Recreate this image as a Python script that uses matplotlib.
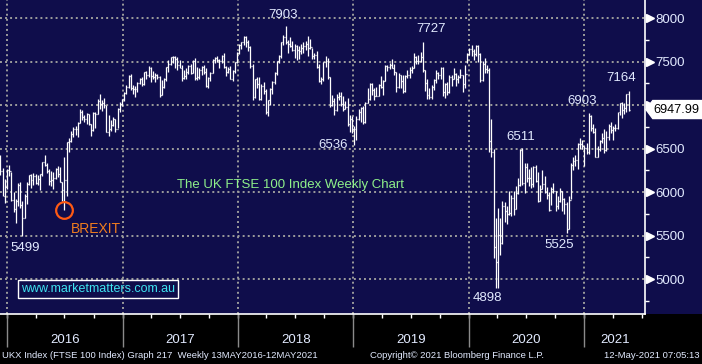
import numpy as np
import pandas as pd
import matplotlib
matplotlib.use('Agg')
import matplotlib.pyplot as plt
import matplotlib.dates as mdates
import matplotlib.transforms as mtransforms
from matplotlib.patches import Polygon
from matplotlib.ticker import MultipleLocator

plt.rcParams['font.family'] = ['Liberation Sans', 'DejaVu Sans']

# weekly FTSE 100 bars (high / low / close)
highs = [
    # Dec 2015
    6420, 6280, 6150, 6270, 6315,
    # 2016
    6230, 6000, 5920, 6100, 6120, 5900, 5980, 6120, 6200, 6210, 6220, 6210, 6200,
    6210, 6350, 6420, 6330, 6260, 6240, 6230, 6280, 6300, 6290, 6120, 6400, 6580,
    6620, 6700, 6750, 6760, 6800, 6950, 6940, 6890, 6910, 6900, 6780, 6920, 6920,
    7070, 7130, 7060, 7080, 7000, 6880, 6830, 6860, 6840, 6960, 7030, 7070, 7145,
    # 2017
    7230, 7340, 7360, 7230, 7220, 7270, 7310, 7320, 7385, 7390, 7450, 7440, 7390,
    7370, 7360, 7330, 7290, 7310, 7440, 7520, 7550, 7560, 7560, 7550, 7520, 7460,
    7400, 7420, 7460, 7470, 7520, 7540, 7440, 7420, 7450, 7460, 7420, 7320, 7380,
    7530, 7550, 7560, 7530, 7580, 7600, 7450, 7440, 7450, 7400, 7500, 7610, 7700,
    # 2018
    7730, 7790, 7790, 7750, 7680, 7470, 7300, 7320, 7320, 7240, 7260, 7180, 7060,
    7200, 7280, 7380, 7510, 7570, 7730, 7800, 7903, 7750, 7780, 7740, 7700, 7690,
    7680, 7700, 7720, 7740, 7790, 7760, 7660, 7600, 7620, 7470, 7320, 7500, 7560,
    7540, 7320, 7110, 7080, 7130, 7150, 7150, 7100, 7050, 7080, 6890, 6870, 6760,
    # 2019
    6870, 6950, 6980, 6990, 7040, 7200, 7250, 7250, 7200, 7210, 7240, 7330, 7290,
    7460, 7460, 7480, 7530, 7470, 7380, 7370, 7350, 7340, 7350, 7400, 7440, 7450,
    7600, 7560, 7580, 7610, 7727, 7400, 7300, 7200, 7230, 7300, 7400, 7380, 7440,
    7440, 7250, 7270, 7350, 7350, 7420, 7370, 7350, 7410, 7350, 7460, 7600, 7650,
    # 2020
    7690, 7640, 7690, 7690, 7600, 7510, 7540, 7460, 7420, 6840, 6490, 5700, 5820,
    5700, 5900, 5890, 5840, 6010, 5960, 6010, 6070, 6160, 6490, 6511, 6330, 6330,
    6260, 6290, 6300, 6310, 6230, 6080, 6250, 6180, 6060, 6000, 6060, 6100, 6010,
    5950, 6050, 6010, 5930, 5880, 5950, 6330, 6400, 6430, 6560, 6620, 6600, 6530,
    6560,
    # 2021
    6903, 6880, 6780, 6740, 6530, 6600, 6680, 6720, 6700, 6780, 6800, 6760, 6780,
    6920, 7020, 7040, 7020, 7130, 7164,
]

lows = [
    # Dec 2015
    6200, 5950, 5870, 6040, 6180,
    # 2016
    5900, 5770, 5640, 5840, 5820, 5499, 5700, 5860, 6080, 6050, 6080, 6090, 6080,
    6020, 6180, 6300, 6220, 6080, 6070, 6040, 6150, 6170, 6110, 5900, 5788, 5950,
    6460, 6570, 6630, 6650, 6630, 6790, 6830, 6800, 6780, 6770, 6640, 6700, 6740,
    6900, 6950, 6930, 6960, 6690, 6640, 6700, 6760, 6690, 6740, 6920, 6990, 7050,
    # 2017
    7130, 7200, 7170, 7130, 7090, 7150, 7240, 7220, 7230, 7300, 7320, 7260, 7300,
    7270, 7300, 7090, 7110, 7190, 7280, 7380, 7460, 7480, 7430, 7400, 7420, 7280,
    7300, 7300, 7360, 7360, 7370, 7290, 7290, 7300, 7350, 7360, 7210, 7200, 7280,
    7370, 7480, 7490, 7430, 7480, 7420, 7330, 7370, 7300, 7280, 7370, 7480, 7590,
    # 2018
    7640, 7690, 7670, 7620, 7430, 7060, 7080, 7190, 7060, 7060, 7130, 6900, 6870,
    7000, 7130, 7240, 7340, 7480, 7540, 7690, 7700, 7600, 7670, 7620, 7540, 7520,
    7530, 7590, 7600, 7630, 7560, 7640, 7530, 7530, 7420, 7260, 7240, 7280, 7440,
    7300, 6980, 6990, 6880, 6930, 7060, 6990, 6930, 6950, 6760, 6690, 6680, 6536,
    # 2019
    6600, 6830, 6810, 6780, 6790, 7020, 7060, 7120, 7060, 7100, 7100, 7200, 7110,
    7280, 7390, 7410, 7420, 7340, 7150, 7200, 7200, 7140, 7150, 7310, 7310, 7370,
    7420, 7470, 7470, 7500, 7380, 7160, 7070, 7070, 7070, 7170, 7250, 7300, 7300,
    7100, 7080, 7120, 7140, 7220, 7300, 7220, 7250, 7310, 7150, 7200, 7480, 7570,
    # 2020
    7560, 7520, 7560, 7500, 7270, 7280, 7370, 7370, 6460, 6400, 5240, 4898, 4900,
    5280, 5400, 5660, 5630, 5740, 5730, 5740, 5800, 5980, 6070, 6080, 5990, 6110,
    6070, 6050, 6060, 6110, 5880, 5900, 6030, 5990, 5920, 5780, 5850, 5990, 5780,
    5800, 5880, 5780, 5750, 5525, 5570, 5920, 6250, 6300, 6260, 6490, 6490, 6300,
    6440,
    # 2021
    6440, 6700, 6680, 6400, 6400, 6470, 6560, 6450, 6470, 6600, 6680, 6600, 6700,
    6720, 6880, 6850, 6900, 6920, 6930,
]

closes = [
    # Dec 2015
    6238, 5952, 6052, 6254, 6242,
    # 2016
    5912, 5804, 5900, 6083, 5848, 5707, 5950, 6096, 6199, 6139, 6189, 6106, 6146,
    6204, 6343, 6310, 6241, 6125, 6138, 6156, 6270, 6209, 6116, 6021, 6138, 6577,
    6590, 6669, 6730, 6724, 6793, 6916, 6859, 6838, 6895, 6777, 6710, 6909, 6899,
    7044, 7013, 7020, 6996, 6693, 6730, 6775, 6840, 6730, 6954, 7011, 7068, 7143,
    # 2017
    7210, 7338, 7198, 7184, 7188, 7258, 7300, 7244, 7374, 7343, 7425, 7336, 7323,
    7349, 7327, 7114, 7204, 7297, 7435, 7470, 7548, 7548, 7527, 7464, 7424, 7313,
    7337, 7378, 7453, 7368, 7511, 7310, 7324, 7401, 7438, 7377, 7215, 7310, 7373,
    7523, 7535, 7523, 7505, 7560, 7433, 7380, 7409, 7300, 7394, 7490, 7603, 7688,
    # 2018
    7724, 7778, 7730, 7666, 7443, 7092, 7294, 7244, 7070, 7224, 7164, 6922, 7057,
    7184, 7265, 7368, 7502, 7567, 7725, 7779, 7730, 7701, 7681, 7634, 7683, 7637,
    7618, 7661, 7679, 7701, 7659, 7667, 7558, 7577, 7432, 7277, 7304, 7490, 7510,
    7318, 6996, 7049, 6940, 7094, 7105, 7014, 6953, 6980, 6778, 6845, 6721, 6728,
    # 2019
    6837, 6918, 6968, 6809, 7020, 7071, 7237, 7178, 7107, 7104, 7228, 7208, 7279,
    7447, 7437, 7459, 7428, 7380, 7203, 7348, 7277, 7162, 7331, 7346, 7407, 7426,
    7553, 7506, 7508, 7549, 7407, 7254, 7117, 7095, 7207, 7282, 7367, 7345, 7426,
    7155, 7247, 7150, 7324, 7302, 7359, 7303, 7327, 7347, 7240, 7353, 7582, 7645,
    # 2020
    7623, 7588, 7675, 7586, 7286, 7467, 7409, 7404, 6581, 6463, 5366, 5191, 5510,
    5416, 5843, 5787, 5752, 5763, 5936, 5800, 5993, 6077, 6484, 6105, 6292, 6159,
    6157, 6095, 6290, 6124, 5898, 6032, 6090, 6001, 5964, 5799, 6032, 6007, 5842,
    5902, 6017, 5920, 5860, 5577, 5910, 6316, 6351, 6367, 6550, 6547, 6529, 6502,
    6461,
    # 2021
    6873, 6736, 6695, 6407, 6489, 6589, 6624, 6483, 6631, 6761, 6709, 6741, 6737,
    6916, 7020, 6938, 6970, 7130, 6947.99,
]

weeks = pd.date_range('2015-12-11', periods=len(closes), freq='7D')
years = [2016, 2017, 2018, 2019, 2020, 2021]
price_ticks = [5000, 5500, 6000, 6500, 7000, 7500, 8000]
# 7000 sits under the last-price flag, so its label is not shown
price_labels = ['5000', '5500', '6000', '6500', '', '7500', '8000']

# turning points that carry a value label: (week, 'high'/'low')
turns = [
    ('2016-02-19', 'low'), ('2018-06-01', 'high'), ('2019-01-04', 'low'),
    ('2019-08-09', 'high'), ('2020-03-27', 'low'), ('2020-06-19', 'high'),
    ('2020-11-06', 'low'), ('2021-01-15', 'high'), ('2021-05-21', 'high'),
]

NAVY = '#0f0d4b'
TXT = '#e2eaff'
GRID = '#9c9c9c'

fig = plt.figure(figsize=(7.02, 3.64), dpi=100, facecolor='black')
W, H = 702, 364
ax = fig.add_axes([0, 1 - 314 / H, 645 / W, 314 / H])
ax.set_facecolor(NAVY)
# navy strip behind right-hand price scale
fig.patches.append(plt.Rectangle((645 / W, 1 - 314 / H), 57 / W, 314 / H,
                                 transform=fig.transFigure, facecolor=NAVY,
                                 edgecolor='none', zorder=-5))

x = mdates.date2num(weeks)
h = np.array(highs)
l = np.array(lows)
c = np.array(closes)
half = 3.0

ax.vlines(x, l, h, color='white', lw=0.9, zorder=3)
ax.hlines(c, x, x + half, color='white', lw=0.9, zorder=3)
ax.hlines(c[:-1], x[1:] - half, x[1:], color='white', lw=0.9, zorder=3)

jan1 = mdates.date2num(pd.Timestamp('2016-01-01'))
ax.set_xlim(jan1 - 22, jan1 + 2019)
ax.set_ylim(4598, 8207)

# dotted grid
for v in price_ticks:
    ax.axhline(v, color=GRID, lw=1.4, ls=(0, (1, 1.6)), zorder=1)
year_x = [mdates.date2num(pd.Timestamp(f'{y}-01-01')) for y in years]
for yx in year_x:
    ax.axvline(yx, color=GRID, lw=1.4, ls=(0, (1, 1.6)), zorder=1)

for s in ['top', 'left']:
    ax.spines[s].set_visible(False)
for s in ['bottom', 'right']:
    ax.spines[s].set_color('white')
    ax.spines[s].set_linewidth(1.2)

# right price scale
ax.yaxis.tick_right()
ax.set_yticks(price_ticks)
ax.set_yticklabels(price_labels)
ax.yaxis.set_minor_locator(MultipleLocator(250))
ax.tick_params(axis='y', which='major', length=0, pad=7.5,
               labelsize=9.5, labelcolor=TXT)
ax.tick_params(axis='y', which='minor', length=3, width=1, color='white',
               direction='out')
tri = mtransforms.blended_transform_factory(ax.transAxes, ax.transData)
ax.plot([1.0075] * len(price_ticks), price_ticks, ls='none', marker='>', ms=6,
        color='white', transform=tri, clip_on=False, zorder=5)

# bottom time scale: quarter ticks, year separators, year labels
quarters = pd.date_range('2016-01-01', '2021-07-01', freq='QS')
ax.set_xticks(mdates.date2num(quarters))
ax.set_xticklabels([])
ax.tick_params(axis='x', length=3, width=1, color='white', direction='out')
sep = mtransforms.blended_transform_factory(ax.transData, ax.transAxes)
ax.vlines(year_x, -0.105, 0, color='#8a8a8a', lw=1, transform=sep, clip_on=False)
xmax = ax.get_xlim()[1]
for i, y in enumerate(years):
    right = year_x[i + 1] if i + 1 < len(year_x) else xmax
    ax.text((year_x[i] + right) / 2, -0.083, str(y), transform=sep,
            ha='center', va='center', fontsize=9.5, color=TXT)

# value labels at turning points
offsets = {
    '2016-02-19': (3, -12, 'center', 'center'),
    '2018-06-01': (-3, 5, 'center', 'bottom'),
    '2019-01-04': (-6, 0, 'right', 'center'),
    '2019-08-09': (8, 7, 'center', 'bottom'),
    '2020-03-27': (-8, -10, 'center', 'center'),
    '2020-06-19': (-2, 5, 'center', 'bottom'),
    '2020-11-06': (-7, -12, 'center', 'center'),
    '2021-01-15': (-7, 6, 'center', 'bottom'),
    '2021-05-21': (-7, 7, 'center', 'bottom'),
}
for wk, kind in turns:
    i = weeks.get_loc(pd.Timestamp(wk))
    val = h[i] if kind == 'high' else l[i]
    dx, dy, ha, va = offsets[wk]
    ax.annotate(f'{val:.0f}', (x[i], val), xytext=(dx, dy),
                textcoords='offset pixels', ha=ha, va=va,
                fontsize=9.5, color=TXT, zorder=6)

# Brexit marker
bi = weeks.get_loc(pd.Timestamp('2016-07-01'))
ax.plot(x[bi] - 0.5, l[bi], marker='o', ms=12, mfc='none', mec='#ff5a14',
        mew=1.6, zorder=6)
ax.annotate('BREXIT', (x[bi], l[bi]), xytext=(6, -19), textcoords='offset pixels',
            ha='left', va='center', fontsize=10, color='#f07d1e', zorder=6)

ax.text(0.45, 1 - 185 / 314, 'The UK FTSE 100 Index Weekly Chart',
        transform=ax.transAxes, ha='center', va='center',
        fontsize=9.5, color='#8ef08a')

ax.text(98 / 645, 1 - 289 / 314, 'www.marketmatters.com.au',
        transform=ax.transAxes, ha='center', va='center', fontsize=9,
        color='#3fe3f0',
        bbox=dict(boxstyle='square,pad=0.22', facecolor='none',
                  edgecolor='white', linewidth=1))

# last price flag
last = c[-1]
dv = 9 * (8207 - 4598) / 314
flag = Polygon([(1.0015, last), (1.012, last + dv), (1.09, last + dv),
                (1.09, last - dv), (1.012, last - dv)], closed=True,
               facecolor='white', edgecolor='white', transform=tri,
               clip_on=False, zorder=7)
ax.add_patch(flag)
ax.text(1.0135, last, f'{last:.2f}', transform=tri, ha='left', va='center',
        fontsize=9.2, color='black', zorder=8)

# footer
fig.text(2 / W, 1 - 356 / H,
         'UKX Index (FTSE 100 Index) Graph 217  Weekly 13MAY2016-12MAY2021',
         ha='left', va='center', fontsize=6.8, color=TXT)
fig.text(370 / W, 1 - 356 / H, 'Copyright\u00a9 2021 Bloomberg Finance L.P.',
         ha='left', va='center', fontsize=6.8, color=TXT)
fig.text(700 / W, 1 - 356 / H, '12-May-2021 07:05:13',
         ha='right', va='center', fontsize=6.8, color=TXT)

fig.savefig('out.png', dpi=100, facecolor='black')
